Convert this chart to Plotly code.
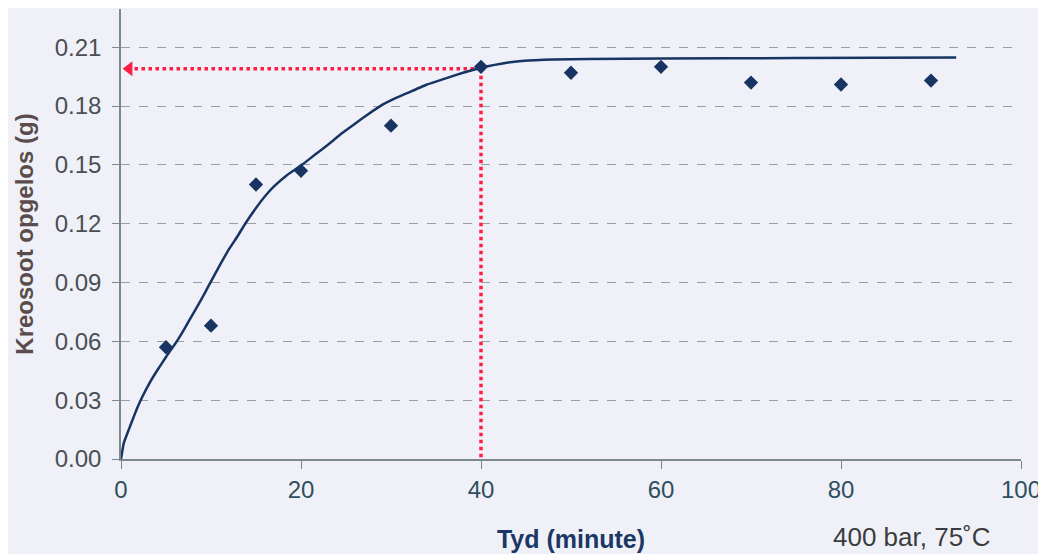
import plotly.graph_objects as go

# Measured data points
time_min = [5, 10, 15, 20, 30, 40, 50, 60, 70, 80, 90]
creosote_g = [0.057, 0.068, 0.140, 0.147, 0.170, 0.200, 0.197, 0.200, 0.192, 0.191, 0.193]

# Fitted curve
fit_x = [0, 0.3, 0.7, 1.2, 1.8, 2.4, 3.2, 4, 5, 6.2, 7, 8, 9, 9.7, 11, 12, 13, 13.8, 15, 16, 17, 18.5,
         20.1, 21.5, 23.2, 24.5, 26, 27.5, 28.8, 30.5, 32, 34, 36, 38, 40, 41.5, 43, 44.5, 46, 48, 52,
         60, 75, 92.8]
fit_y = [0, 0.008, 0.013, 0.019, 0.026, 0.032, 0.039, 0.045, 0.052, 0.060, 0.066, 0.074, 0.082, 0.088,
         0.099, 0.107, 0.114, 0.120, 0.128, 0.134, 0.139, 0.145, 0.150, 0.155, 0.161, 0.166, 0.171,
         0.176, 0.180, 0.184, 0.187, 0.191, 0.194, 0.197, 0.1995, 0.2010, 0.2022, 0.2030, 0.2034,
         0.2037, 0.2040, 0.2042, 0.2045, 0.2048]

# Guide lines at t = 40 min
guide_h_x = [40, 0.9]
guide_h_y = [0.1990, 0.1990]
guide_v_x = [40, 40]
guide_v_y = [0.1990, 0]

y_ticks = [0.00, 0.03, 0.06, 0.09, 0.12, 0.15, 0.18, 0.21]
x_ticks = [0, 20, 40, 60, 80, 100]

red = "#ff1f45"
navy = "#173463"

fig = go.Figure()
fig.add_trace(go.Scatter(x=guide_v_x, y=guide_v_y, mode="lines",
                         line=dict(color=red, width=3.5, dash="dot"), hoverinfo="skip"))
fig.add_trace(go.Scatter(x=guide_h_x, y=guide_h_y, mode="lines",
                         line=dict(color=red, width=3.5, dash="dot"), hoverinfo="skip"))
fig.add_trace(go.Scatter(x=[guide_h_x[-1]], y=[guide_h_y[-1]], mode="markers",
                         marker=dict(symbol="triangle-left", size=13, color=red), hoverinfo="skip"))
fig.add_trace(go.Scatter(x=fit_x, y=fit_y, mode="lines", line=dict(color=navy, width=2.5, shape="spline", smoothing=0.3)))
fig.add_trace(go.Scatter(x=time_min, y=creosote_g, mode="markers",
                         marker=dict(symbol="diamond", size=11, color=navy)))

# The page body has an 8px margin, so the figure is sized/offset to land on the 1046x554 frame.
fig.update_layout(
    width=1038, height=546,
    margin=dict(l=113, r=25, t=1, b=95),
    paper_bgcolor="#f0f1f8", plot_bgcolor="#f0f1f8",
    showlegend=False,
    font=dict(family="Liberation Sans, Arial, sans-serif", size=24, color="#4a4f55"),
    xaxis=dict(range=[0, 100], tickvals=x_ticks, ticks="outside", ticklen=8, tickcolor="#7d8a8c",
               showgrid=False, showline=True, linecolor="#7d8a8c", linewidth=1.5, zeroline=False,
               automargin=False, tickfont=dict(size=24, color="#2f4f5f"),
               title=dict(text="<b>Tyd (minute)</b>", font=dict(size=25, color="#1b3766"), standoff=29)),
    yaxis=dict(range=[0, 0.2295], tickvals=y_ticks, tickformat=".2f", ticks="outside", ticklen=7,
               tickcolor="#7d8a8c", showline=True, linecolor="#7d8a8c", linewidth=1.5, zeroline=False,
               showgrid=True, gridcolor="#9a9ea3", gridwidth=1, griddash="dash", ticklabelstandoff=6,
               automargin=False, tickfont=dict(size=24, color="#4a4f55"),
               title=dict(text="<b>Kreosoot opgelos (g)</b>", font=dict(size=24, color="#5a4c4c"), standoff=14)),
    annotations=[dict(text="400 bar, 75˚C", xref="paper", yref="paper", x=0.969, y=-0.173,
                      xanchor="right", yanchor="middle", showarrow=False,
                      font=dict(size=26, color="#3a3c40"))],
)

fig.write_html("out.html")
